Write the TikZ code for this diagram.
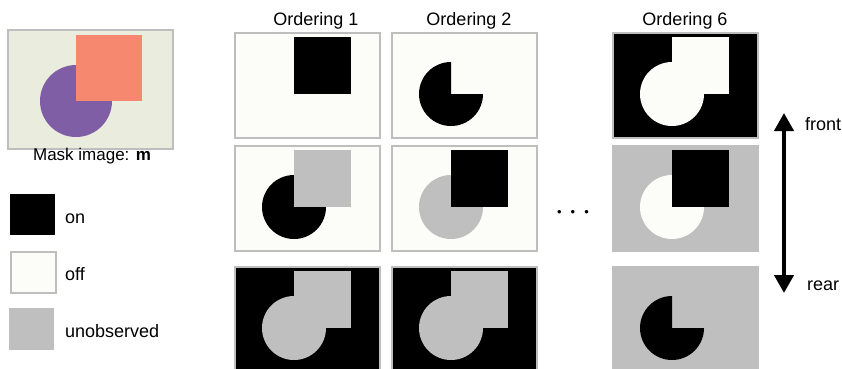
\documentclass[tikz,border=0pt]{standalone}
\usepackage{fontspec}
\setmainfont{Liberation Sans}
\usetikzlibrary{arrows.meta}

\definecolor{offwhite}{RGB}{252,252,248}
\definecolor{unobs}{RGB}{191,191,191}
\definecolor{rimgray}{RGB}{190,190,190}
\definecolor{maskbg}{RGB}{234,237,222}
\definecolor{salmon}{RGB}{246,136,112}
\definecolor{lilac}{RGB}{127,94,166}

\tikzset{
  panel/.style={draw=rimgray, line width=1.5pt, minimum width=145pt, minimum height=105pt,
                inner sep=0pt, anchor=north west},
  legbox/.style={minimum width=45pt, minimum height=41pt, inner sep=0pt, anchor=north west},
  txt/.style={inner sep=0pt, anchor=base west, font=\fontsize{18}{21}\selectfont}
}

% square, disc and cut disc inside a panel
\newcommand{\partsq}[2]{\fill[#2] ([shift={(60,5)}]#1.north west) rectangle ++(57,57);}
\newcommand{\partdisc}[2]{\fill[#2] ([shift={(60,62)}]#1.north west) circle[radius=32];}
\newcommand{\partpie}[2]{\fill[#2] ([shift={(60,62)}]#1.north west) -- ++(32,0)
  arc[start angle=0, end angle=270, radius=32] -- cycle;}

\begin{document}
\begin{tikzpicture}[x=1pt, y=-1pt]

  \clip (0,0) rectangle (842,368);

  % ---------- mask image ----------
  \node[panel, fill=maskbg, minimum width=165pt, minimum height=119pt] (mask) at (7,29) {};
  \fill[lilac] ([shift={(69,72)}]mask.north west) circle[radius=36];
  \fill[salmon] ([shift={(69,6)}]mask.north west) rectangle ++(66,66);
  \node[txt, anchor=base, font=\fontsize{17}{20}\selectfont] (masktxt) at (92,160) {Mask image: \textbf{m}};

  % ---------- legend ----------
  \node[legbox, fill=black] (onbox) at (10,194) {};
  \node[legbox, fill=offwhite, draw=rimgray, line width=1.5pt] (offbox) at (10,251) {};
  \node[legbox, fill=unobs, minimum height=42pt] (unobsbox) at (9,308) {};
  \node[txt] (ontxt) at (65,223) {on};
  \node[txt] (offtxt) at (65,280) {off};
  \node[txt] (unobstxt) at (65,337) {unobserved};

  % ---------- column titles ----------
  \node[txt, anchor=base] (ord1) at (316,25) {Ordering 1};
  \node[txt, anchor=base] (ord2) at (469,25) {Ordering 2};
  \node[txt, anchor=base] (ord6) at (685,25) {Ordering 6};

  % ---------- front row ----------
  \node[panel, fill=offwhite] (o1front) at (234,32) {};
  \partsq{o1front}{black}
  \node[panel, fill=offwhite] (o2front) at (391,32) {};
  \partpie{o2front}{black}
  \node[panel, fill=black] (o6front) at (612,32) {};
  \partdisc{o6front}{offwhite}
  \partsq{o6front}{offwhite}

  % ---------- middle row ----------
  \node[panel, fill=offwhite] (o1mid) at (234,145) {};
  \partdisc{o1mid}{black}
  \partsq{o1mid}{unobs}
  \node[panel, fill=offwhite] (o2mid) at (391,145) {};
  \partdisc{o2mid}{unobs}
  \partsq{o2mid}{black}
  \node[panel, fill=unobs, draw=unobs] (o6mid) at (612,145) {};
  \partdisc{o6mid}{offwhite}
  \partsq{o6mid}{black}

  % ---------- rear row ----------
  \foreach \p/\x in {o1rear/234, o2rear/391}{
    \node[panel, fill=black, minimum height=110pt] (\p) at (\x,266) {};
    \partdisc{\p}{unobs}
    \partsq{\p}{unobs}
  }
  \node[panel, fill=unobs, draw=unobs, minimum height=110pt] (o6rear) at (612,266) {};
  \partpie{o6rear}{black}

  % ---------- skipped orderings ----------
  \node[inner sep=0pt, font=\fontsize{13}{15}\selectfont] (dots) at (573,213)
       {\textbullet\hspace{9pt}\textbullet\hspace{9pt}\textbullet};

  % ---------- depth arrow ----------
  \coordinate (arrtop) at (784,113);
  \coordinate (arrbot) at (784,293);
  \draw[line width=4pt, {Triangle[width=19pt,length=18pt]}-{Triangle[width=19pt,length=18pt]}]
       (arrtop) -- (arrbot);
  \node[txt] (front) at (805,130) {front};
  \node[txt] (rear) at (807,290) {rear};

\end{tikzpicture}
\end{document}
